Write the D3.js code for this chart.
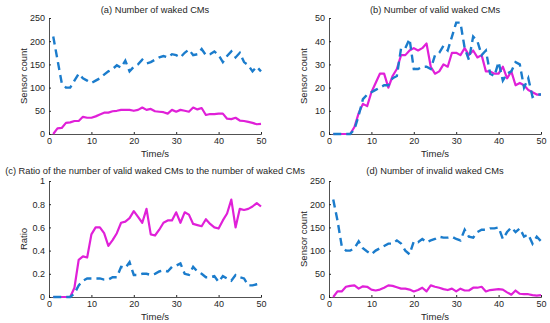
<!DOCTYPE html>
<html>
<head>
<meta charset="utf-8">
<script src="https://cdn.jsdelivr.net/npm/d3@7"></script>
<style>
  body { margin: 0; background: #fff; }
  svg text { font-family: "Liberation Sans", Arial, sans-serif; fill: #262626; }
  .axis path, .axis line { stroke: #262626; }
</style>
</head>
<body>
<div id="chart-area"></div>
<script>
// Time axis: 1..50 s
const time = d3.range(1, 51);

// (a) number of waked CMs
const wakedBlue = [210,160,110,100,100,115,130,120,115,110,115,120,128,135,140,148,143,158,135,145,
  150,160,152,155,160,165,168,165,172,170,165,175,182,170,172,183,170,172,178,170,
  155,168,178,165,175,155,148,135,145,135];
const wakedPink = [0,12,13,24,25,28,28,37,35,35,38,42,46,46,49,50,52,52,52,50,
  52,57,52,54,49,48,47,44,52,48,52,50,48,57,53,56,41,43,43,44,
  44,33,32,35,29,28,26,24,21,22];

// (b) number of valid waked CMs
const validBlue = [0,0,0,0,0,2,8,15,17,18,19,20,21,21,24,25,37,37,41,28,
  28,29,29,28,34,35,38,36,42,48,48,37,32,42,40,34,36,26,25,31,
  23,26,27,31,30,20,24,16,17,17];
const validPink = [0,0,0,0,0,3,9,13,12,18,22,26,26,20,25,28,34,34,36,37,
  36,37,39,29,26,27,30,29,35,35,34,37,34,36,33,34,27,27,26,26,
  29,24,27,21,22,21,19,18,17,17];

// (c) ratio valid / waked
const ratioBlue = [0,0,0,0,0,0.03,0.10,0.14,0.16,0.16,0.16,0.16,0.15,0.15,0.17,0.17,0.26,0.25,0.30,0.19,
  0.19,0.20,0.20,0.19,0.20,0.22,0.23,0.22,0.26,0.27,0.29,0.20,0.19,0.26,0.22,0.20,0.17,0.17,0.18,0.13,
  0.18,0.16,0.14,0.19,0.17,0.16,0.10,0.10,0.11,0.12];
const ratioPink = [0,0,0,0,0,0.08,0.32,0.35,0.34,0.54,0.60,0.60,0.55,0.44,0.49,0.55,0.64,0.65,0.68,0.74,
  0.69,0.64,0.76,0.54,0.53,0.58,0.64,0.66,0.66,0.73,0.64,0.73,0.71,0.63,0.62,0.61,0.67,0.63,0.60,0.59,
  0.66,0.72,0.84,0.60,0.76,0.75,0.76,0.78,0.81,0.78];

// (d) number of invalid waked CMs
const invalidBlue = [210,165,110,100,100,105,120,105,98,92,100,105,110,115,115,122,115,100,92,120,
  118,125,118,122,125,130,128,128,130,125,122,145,130,128,140,145,145,148,148,150,
  125,140,150,140,148,130,135,115,130,120];
const invalidPink = [0,12,12,22,24,25,18,23,22,16,14,16,20,25,24,21,18,18,16,12,
  15,20,12,25,22,20,17,15,18,12,18,14,14,20,20,22,12,15,16,17,
  16,10,5,14,7,6,6,4,3,4];

const xTicks = [0, 10, 20, 30, 40, 50];

const panels = [
  { title: "(a) Number of waked CMs", ylabel: "Sensor count", yMax: 250, yTicks: [0,50,100,150,200,250],
    blue: wakedBlue, pink: wakedPink, x0: 49, y0: 18, titleDy: -5 },
  { title: "(b) Number of valid waked CMs", ylabel: "Sensor count", yMax: 50, yTicks: [0,10,20,30,40,50],
    blue: validBlue, pink: validPink, x0: 329, y0: 18, titleDy: -5 },
  { title: "(c) Ratio of the number of valid waked CMs to the number of waked CMs", ylabel: "Ratio", yMax: 1,
    yTicks: [0,0.2,0.4,0.6,0.8,1], blue: ratioBlue, pink: ratioPink, x0: 49, y0: 181, titleDy: -7 },
  { title: "(d) Number of invalid waked CMs", ylabel: "Sensor count", yMax: 250, yTicks: [0,50,100,150,200,250],
    blue: invalidBlue, pink: invalidPink, x0: 329, y0: 181, titleDy: -7 }
];

const pw = 212, ph = 116;

const svg = d3.select("#chart-area").append("svg")
  .attr("width", 550).attr("height", 323);

panels.forEach(p => {
  const g = svg.append("g").attr("transform", `translate(${p.x0}, ${p.y0})`);

  const x = d3.scaleLinear().domain([0, 50]).range([0, pw]);
  const y = d3.scaleLinear().domain([0, p.yMax]).range([ph, 0]);

  const xAxis = g.append("g").attr("class", "axis")
    .attr("transform", `translate(0, ${ph})`)
    .call(d3.axisBottom(x).tickValues(xTicks).tickSize(-2).tickPadding(4));
  const yAxis = g.append("g").attr("class", "axis")
    .call(d3.axisLeft(y).tickValues(p.yTicks).tickSize(-2).tickPadding(4)
      .tickFormat(d => d3.format("~g")(d)));
  [xAxis, yAxis].forEach(a => {
    a.select(".domain").attr("stroke", "#262626").attr("stroke-width", 0.8);
    a.selectAll("text").attr("font-size", 9).style("fill", "#262626");
  });

  const line = d3.line().x((d, i) => x(time[i])).y(d => y(d));

  g.append("path").datum(p.pink)
    .attr("fill", "none").attr("stroke", "#e020d8").attr("stroke-width", 2.2)
    .attr("stroke-linejoin", "round").attr("d", line);
  g.append("path").datum(p.blue)
    .attr("fill", "none").attr("stroke", "#1b7ccc").attr("stroke-width", 2.4)
    .attr("stroke-dasharray", "8,5").attr("d", line);

  g.append("text").attr("x", pw / 2).attr("y", p.titleDy)
    .attr("text-anchor", "middle").attr("font-size", 9.3).text(p.title);
  g.append("text").attr("x", pw / 2).attr("y", ph + 23)
    .attr("text-anchor", "middle").attr("font-size", 9.5).text("Time/s");
  g.append("text").attr("transform", `translate(-22, ${ph / 2}) rotate(-90)`)
    .attr("text-anchor", "middle").attr("font-size", 9.5).text(p.ylabel);
});
</script>
</body>
</html>
